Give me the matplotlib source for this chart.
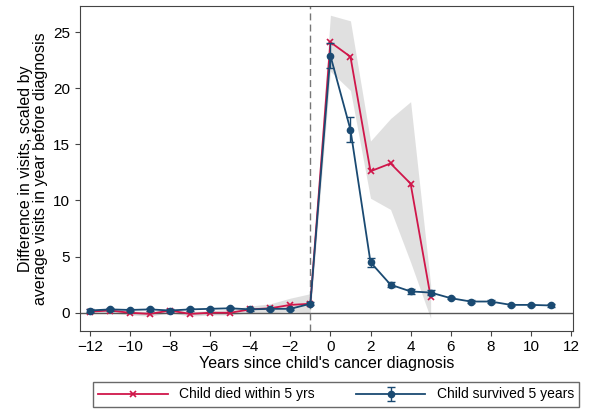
import numpy as np
import matplotlib.pyplot as plt

plt.rcParams['font.family'] = ['Liberation Sans', 'DejaVu Sans']

years_red = list(range(-12, 6))
died = [0.1, 0.2, 0.0, -0.1, 0.2, -0.1, 0.0, 0.0, 0.3, 0.4, 0.7, 0.8, 24.1, 22.8, 12.6, 13.3, 11.5, 1.4]
died_lo = [-0.1, 0.0, -0.2, -0.3, 0.0, -0.3, -0.2, -0.2, 0.0, 0.0, 0.1, 0.0, 21.5, 19.8, 10.2, 9.2, 4.5, -0.5]
died_hi = [0.3, 0.4, 0.2, 0.1, 0.4, 0.1, 0.2, 0.3, 0.6, 0.8, 1.3, 1.7, 26.5, 26.0, 15.3, 17.3, 18.8, 2.5]

years_blue = list(range(-12, 12))
surv = [0.2, 0.3, 0.25, 0.3, 0.2, 0.3, 0.35, 0.4, 0.3, 0.35, 0.35, 0.8, 22.9, 16.3, 4.5, 2.5, 1.9, 1.8, 1.3, 1.0, 1.0, 0.7, 0.7, 0.65]
surv_err = [0.1, 0.1, 0.1, 0.15, 0.1, 0.1, 0.1, 0.1, 0.1, 0.1, 0.1, 0.15, 1.1, 1.1, 0.4, 0.25, 0.2, 0.2, 0.1, 0.1, 0.1, 0.1, 0.1, 0.1]

red = '#d0164a'
blue = '#1a4a72'

fig, ax = plt.subplots(figsize=(6, 4.16), dpi=100)
fig.subplots_adjust(left=0.133, right=0.955, top=0.985, bottom=0.205)

ax.fill_between(years_red, died_lo, died_hi, color='#d9d9d9', alpha=0.8, lw=0)
ax.axhline(0, color='#555555', lw=1)
ax.axvline(-1, color='#777777', lw=1, ls=(0, (5, 3)))
ax.plot(years_red, died, color=red, marker='x', ms=4, lw=1.3, mew=1.2, label='Child died within 5 yrs')
ax.errorbar(years_blue, surv, yerr=surv_err, color=blue, marker='o', ms=4.5, lw=1.3,
            capsize=3, elinewidth=1, label='Child survived 5 years')

ax.set_xlim(-12.5, 12.1)
ax.set_ylim(-1.6, 27.3)
ax.set_xticks(range(-12, 13, 2))
ax.set_yticks([0, 5, 10, 15, 20, 25])
ax.tick_params(labelsize=11, color='#444444')
for s in ax.spines.values():
    s.set_color('#444444')
ax.set_xlabel("Years since child's cancer diagnosis", fontsize=11.5, labelpad=1)
ax.set_ylabel('Difference in visits, scaled by\naverage visits in year before diagnosis', fontsize=11.5, linespacing=0.95)

fig.legend(loc='lower center', bbox_to_anchor=(0.56, 0.005), ncol=2, fontsize=10,
           frameon=True, fancybox=False, edgecolor='#444444', handlelength=5, columnspacing=3)

fig.savefig('out.png')
